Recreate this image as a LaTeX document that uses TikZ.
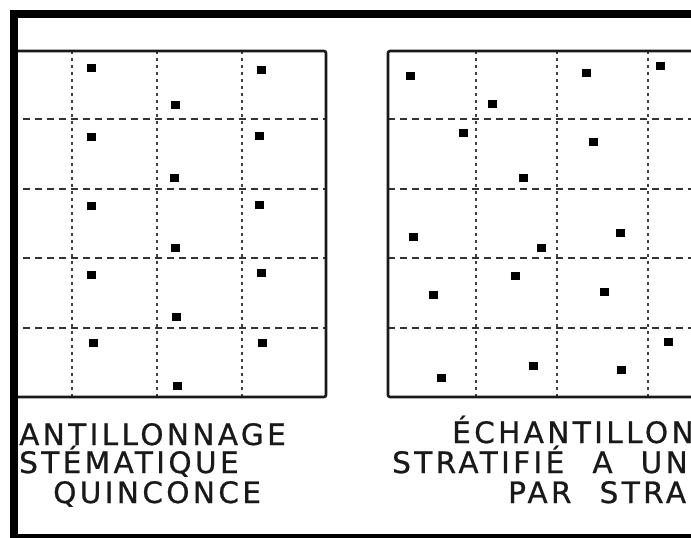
\documentclass[tikz,border=0pt]{standalone}
\usepackage{fontspec}
\newfontfamily\letterfont[LetterSpace=11.5,FakeBold=0.8,WordSpace=2.2]{DejaVu Sans}

\begin{document}
\begin{tikzpicture}[
    x=1pt, y=-1pt,
    box/.style={line width=2.6pt, draw=black!90, rounded corners=2pt},
    hline/.style={line width=1.9pt, draw=black!80, dash pattern=on 7pt off 5pt},
    vline/.style={line width=1.6pt, draw=black!75, dash pattern=on 3pt off 4pt},
    caption/.style={anchor=base west, inner sep=0pt, text=black!90, font=\letterfont\fontsize{29.5}{30}\selectfont}
]
\useasboundingbox (0,0) rectangle (691,538);

\begin{scope}
\clip (18,18) rectangle (691,534);

% Left grid (quinconce)
\foreach \y in {119,189,258,328} \draw[hline] (-13,\y) -- (326,\y);
\foreach \x in {72,157,242} \draw[vline] (\x,51) -- (\x,397);
\draw[box] (-13,51) rectangle (326,397);

% Right grid (stratifie)
\foreach \y in {119,189,258,328} \draw[hline] (388,\y) -- (720,\y);
\foreach \x in {476,557,648} \draw[vline] (\x,51) -- (\x,397);
\draw[box] (720,51) -- (388,51) -- (388,397) -- (720,397);

% Points
\foreach \x/\y in {91/68,91/137,91/206,91/275,93/343,
                   261/70,259/136,259/205,261/273,262/343,
                   175/105,174/178,175/248,176/317,177/386}
  \fill ({\x-4.5},{\y-3.8}) rectangle ++(9,7.6);
\foreach \x/\y in {410/76,492/104,586/73,660/66,463/133,593/142,
                   523/178,413/237,541/248,620/233,515/276,433/295,
                   604/292,668/342,533/366,441/378,621/370}
  \fill ({\x-4.5},{\y-3.8}) rectangle ++(9,7.6);

% Captions
\node (capl1) [caption] at (19,445) {ANTILLONNAGE};
\node (capl2) [caption] at (19,473) {STÉMATIQUE};
\node (capl3) [caption] at (53,503) {QUINCONCE};
\node (capr1) [caption] at (452,443) {ÉCHANTILLON};
\node (capr2) [caption] at (392,473) {STRATIFIÉ A UN};
\node (capr3) [caption] at (508,503) {PAR STRA};
\end{scope}

% Frame
\draw[line width=8pt] (14,545) -- (14,14) -- (700,14);
\draw[line width=8pt] (10,538) -- (700,538);

\end{tikzpicture}
\end{document}
